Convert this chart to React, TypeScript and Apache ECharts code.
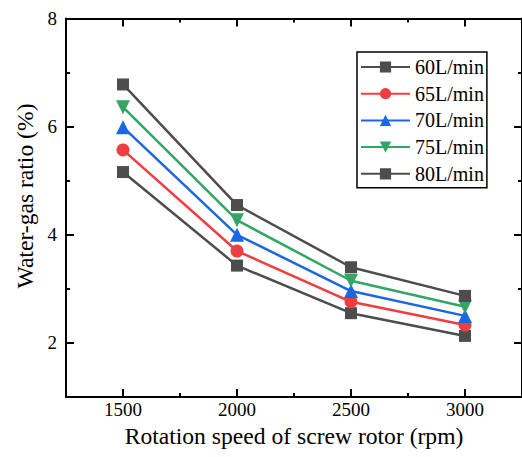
import React, { useEffect, useRef } from "react";
import * as echarts from "echarts";

const rpm = [1500, 2000, 2500, 3000];
const flowNames = ["60L/min", "65L/min", "70L/min", "75L/min", "80L/min"];
const s60 = [5.16, 3.43, 2.55, 2.13];
const s65 = [5.57, 3.7, 2.76, 2.33];
const s70 = [5.99, 4.0, 2.96, 2.5];
const s75 = [6.36, 4.27, 3.15, 2.67];
const s80 = [6.78, 4.55, 3.4, 2.87];
const xMajor = [1500, 2000, 2500, 3000];
const xMinor = [1750, 2250, 2750];
const yMajor = [2, 4, 6, 8];
const yMinor = [3, 5, 7];

const FONT = "Liberation Serif";
const GREY = "#4d4d4d";
const RED = "#ef3e42";
const BLUE = "#1b67e0";
const GREEN = "#33a565";

export default function App() {
  const ref = useRef<HTMLDivElement>(null);
  useEffect(() => {
    if (!ref.current) return;
    const chart = echarts.init(ref.current, undefined, { renderer: "svg" });
    const seriesVals = [s60, s65, s70, s75, s80];
    const colors = [GREY, RED, BLUE, GREEN, GREY];
    const symbols = ["rect", "circle", "triangle", "triangle", "rect"];
    const sizes = [12, 13, 14, 14, 12];
    const rotates = [0, 0, 0, 180, 0];

    const xBase = {
      type: "value",
      min: 1250,
      max: 3250,
      splitLine: { show: false },
    };
    const yBase = {
      type: "value",
      min: 1,
      max: 8,
      splitLine: { show: false },
    };
    const line = { show: true, lineStyle: { color: "#000", width: 2 } };
    const plain = (v: number) => String(v);

    chart.setOption({
      animation: false,
      backgroundColor: "#fff",
      textStyle: { fontFamily: FONT },
      grid: { left: 66, top: 18.5, width: 459.5, bottom: 60, containLabel: false },
      legend: {
        orient: "vertical",
        left: 357,
        top: 52,
        itemWidth: 49,
        itemHeight: 14,
        itemGap: 6.7,
        padding: [5, 3, 4, 3],
        borderColor: "#000",
        borderWidth: 1.5,
        selectedMode: false,
        data: flowNames,
        textStyle: { fontFamily: FONT, fontSize: 20, color: "#000", lineHeight: 20 },
      },
      xAxis: [
        {
          ...xBase,
          position: "bottom",
          axisLine: line,
          axisTick: { show: true, inside: true, length: 8, customValues: xMajor, lineStyle: { color: "#000", width: 2 } },
          axisLabel: { show: true, customValues: xMajor, formatter: plain, margin: 3, fontFamily: FONT, fontSize: 19, color: "#000" },
          name: "Rotation speed of screw rotor (rpm)",
          nameLocation: "middle",
          nameGap: 27,
          nameTextStyle: { fontFamily: FONT, fontSize: 23.6, color: "#000" },
        },
        {
          ...xBase,
          position: "top",
          axisLine: line,
          axisTick: { show: true, inside: true, length: 8, customValues: xMajor, lineStyle: { color: "#000", width: 2 } },
          axisLabel: { show: false },
        },
        {
          ...xBase,
          position: "bottom",
          axisLine: { show: false },
          axisTick: { show: true, inside: true, length: 4, customValues: xMinor, lineStyle: { color: "#000", width: 2 } },
          axisLabel: { show: false },
        },
        {
          ...xBase,
          position: "top",
          axisLine: { show: false },
          axisTick: { show: true, inside: true, length: 4, customValues: xMinor, lineStyle: { color: "#000", width: 2 } },
          axisLabel: { show: false },
        },
      ],
      yAxis: [
        {
          ...yBase,
          position: "left",
          axisLine: line,
          axisTick: { show: true, inside: true, length: 8, customValues: yMajor, lineStyle: { color: "#000", width: 2 } },
          axisLabel: { show: true, customValues: yMajor, formatter: plain, margin: 9, fontFamily: FONT, fontSize: 19, color: "#000" },
        },
        {
          ...yBase,
          position: "right",
          axisLine: line,
          axisTick: { show: true, inside: true, length: 8, customValues: yMajor, lineStyle: { color: "#000", width: 2 } },
          axisLabel: { show: false },
        },
        {
          ...yBase,
          position: "left",
          axisLine: { show: false },
          axisTick: { show: true, inside: true, length: 4, customValues: yMinor, lineStyle: { color: "#000", width: 2 } },
          axisLabel: { show: false },
        },
        {
          ...yBase,
          position: "right",
          axisLine: { show: false },
          axisTick: { show: true, inside: true, length: 4, customValues: yMinor, lineStyle: { color: "#000", width: 2 } },
          axisLabel: { show: false },
        },
      ],
      graphic: [
        {
          type: "text",
          x: 25,
          y: 196,
          rotation: Math.PI / 2,
          style: {
            text: "Water-gas ratio (%)",
            fontFamily: FONT,
            fontSize: 23.6,
            fill: "#000",
            align: "center",
            verticalAlign: "middle",
          },
        },
      ],
      series: seriesVals.map((vals, k) => ({
        name: flowNames[k],
        type: "line",
        xAxisIndex: 0,
        yAxisIndex: 0,
        data: rpm.map((x, i) => [x, vals[i]]),
        symbol: symbols[k],
        symbolSize: sizes[k],
        symbolRotate: rotates[k],
        showAllSymbol: true,
        color: colors[k],
        itemStyle: { color: colors[k], opacity: 1 },
        lineStyle: { color: colors[k], width: 2.5 },
        emphasis: { disabled: true },
        z: 2 + k,
      })),
    });
    return () => chart.dispose();
  }, []);
  return (
    <div
      ref={ref}
      style={{ position: "fixed", left: 0, top: 0, width: 522, height: 457, background: "#fff" }}
    />
  );
}
